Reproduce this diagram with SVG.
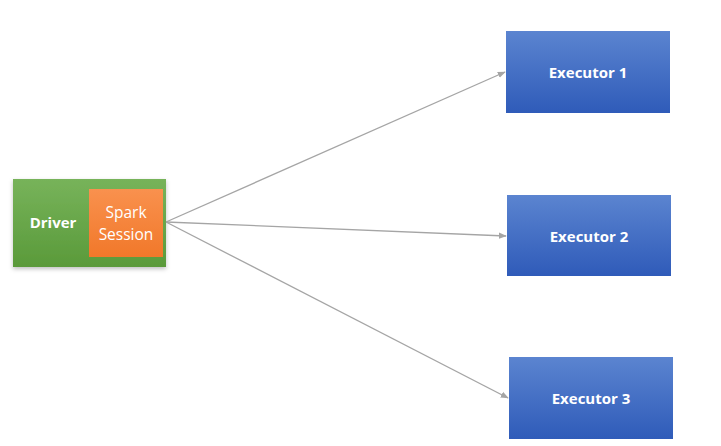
<svg xmlns="http://www.w3.org/2000/svg" width="721" height="446" viewBox="0 0 721 446">
<defs>
<linearGradient id="gGreen" x1="0" y1="0" x2="0" y2="1"><stop offset="0" stop-color="#77b35a"/><stop offset="1" stop-color="#5a9a3a"/></linearGradient>
<linearGradient id="gOrange" x1="0" y1="0" x2="0" y2="1"><stop offset="0" stop-color="#f9914e"/><stop offset="1" stop-color="#f1782a"/></linearGradient>
<linearGradient id="gBlue" x1="0" y1="0" x2="0" y2="1"><stop offset="0" stop-color="#5b84d0"/><stop offset="1" stop-color="#2f5bb9"/></linearGradient>
<filter id="sh" x="-10%" y="-10%" width="120%" height="130%"><feDropShadow dx="0" dy="2" stdDeviation="2" flood-color="#000" flood-opacity="0.25"/></filter>
<marker id="arr" viewBox="0 0 10 10" refX="9" refY="5" markerWidth="8" markerHeight="8" markerUnits="userSpaceOnUse" orient="auto"><path d="M0,1 L10,5 L0,9 z" fill="#a5a5a5"/></marker>
</defs>
<style>
.lbl{font-family:"Open Sans","Liberation Sans",sans-serif;fill:#fff;text-anchor:middle}
.b{font-weight:bold;font-size:15px}
.conn line{stroke:#a5a5a5;stroke-width:1.3;marker-end:url(#arr)}
</style>
<rect width="721" height="446" fill="#fff"/>
<g id="driver">
<rect x="13" y="179" width="153" height="88" fill="url(#gGreen)" filter="url(#sh)"/>
<text class="lbl b" x="53" y="228">Driver</text>
</g>
<g id="spark-session">
<rect x="89" y="189" width="74" height="68" fill="url(#gOrange)"/>
<text class="lbl" x="126" y="218" font-size="15.5">Spark</text>
<text class="lbl" x="126" y="240" font-size="15.5">Session</text>
</g>
<g class="conn" id="connectors">
<line x1="166" y1="222" x2="505" y2="72"/>
<line x1="166" y1="222" x2="506" y2="236"/>
<line x1="166" y1="222" x2="508" y2="398"/>
</g>
<g id="executor1">
<rect x="506" y="31" width="164" height="82" fill="url(#gBlue)"/>
<text class="lbl b" x="588" y="78">Executor 1</text>
</g>
<g id="executor2">
<rect x="507" y="195" width="164" height="81" fill="url(#gBlue)"/>
<text class="lbl b" x="589" y="242">Executor 2</text>
</g>
<g id="executor3">
<rect x="509" y="357" width="164" height="82" fill="url(#gBlue)"/>
<text class="lbl b" x="591" y="404">Executor 3</text>
</g>
</svg>
